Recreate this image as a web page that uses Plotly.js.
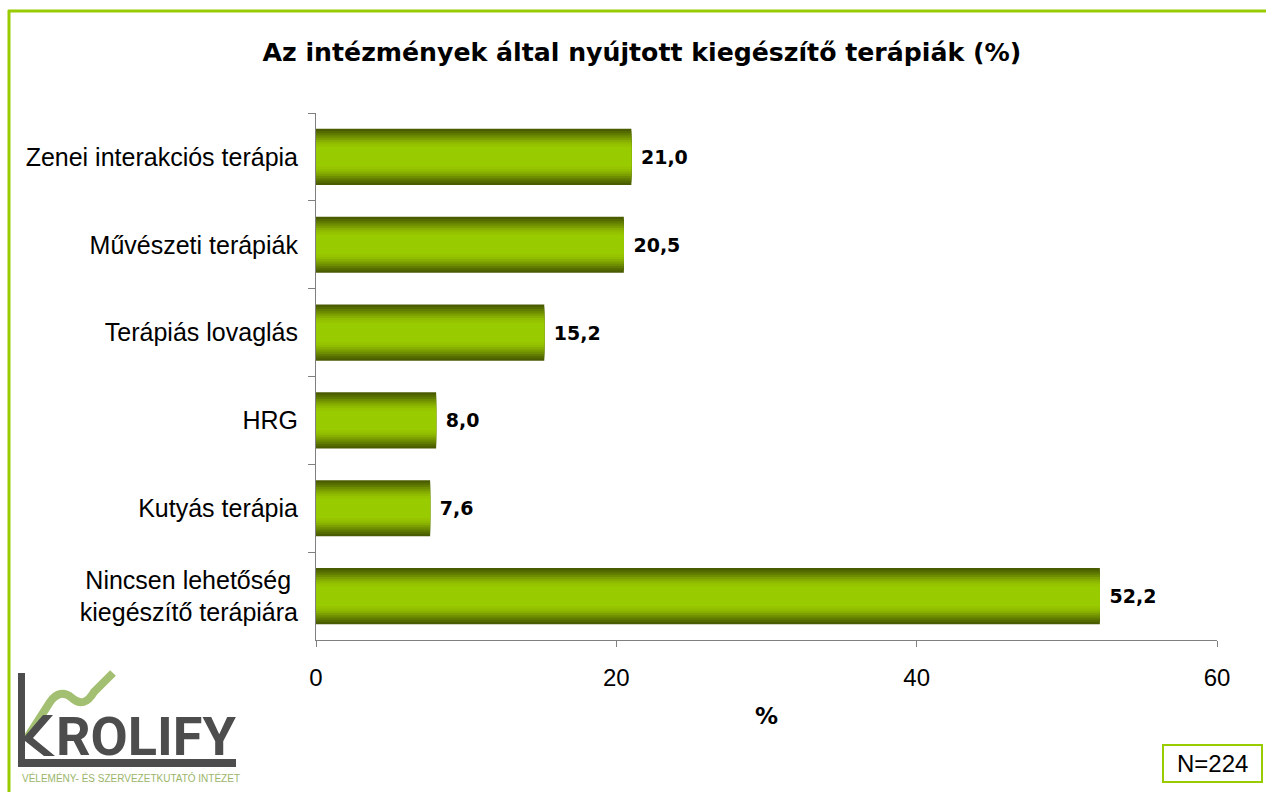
<!DOCTYPE html>
<html>
<head>
<meta charset="utf-8">
<script src="https://cdn.plot.ly/plotly-3.0.1.min.js"></script>
<style>html,body{margin:0;padding:0;background:#fff;}#chart{width:1266px;height:792px;}</style>
</head>
<body>
<div id="chart"></div>
<script>
// ---- data ----
const categories = [
  "Zenei interakciós terápia",
  "Művészeti terápiák",
  "Terápiás lovaglás",
  "HRG",
  "Kutyás terápia",
  "Nincsen lehetőség <br>kiegészítő terápiára"
];
const values = [21.0, 20.5, 15.2, 8.0, 7.6, 52.2];
const xTicks = [0, 20, 40, 60];
const chartTitle = "Az intézmények által nyújtott kiegészítő terápiák (%)";
const xTitle = "%";
const sampleNote = "N=224";

// ---- geometry helpers (pixel -> paper) ----
const W = 1266, H = 792;
const M = {l: 316, r: 49, t: 113, b: 152};
const pw = W - M.l - M.r, ph = H - M.t - M.b;
const px = x => (x - M.l) / pw;
const py = y => (H - M.b - y) / ph;

// gradient layers: [fraction of bar width, colour]
const layers = [
  [1.00, "#4a5c00"], [0.92, "#556b00"], [0.84, "#617c00"], [0.76, "#6e8d00"],
  [0.68, "#7b9e00"], [0.60, "#87ae00"], [0.52, "#90bc00"], [0.44, "#96c500"],
  [0.34, "#99cc00"]
];
const baseWidth = 0.64;

const traces = layers.map((l, i) => ({
  type: "bar",
  orientation: "h",
  y: categories,
  x: values,
  width: baseWidth * l[0],
  marker: {color: l[1], line: {width: 0}},
  texttemplate: i === 0 ? "\u00a0%{x:.1f}" : undefined,
  textposition: i === 0 ? "outside" : "none",
  textfont: {family: "DejaVu Sans", size: 19, color: "#000", weight: "bold"},
  cliponaxis: false,
  hoverinfo: "skip",
  showlegend: false
}));

const grey = "#4d4d4d";
const shapes = [
  // green frame (top and left)
  {type: "line", xref: "paper", yref: "paper", x0: px(8), x1: px(1266), y0: py(11), y1: py(11), line: {color: "#99cc00", width: 3}},
  {type: "line", xref: "paper", yref: "paper", x0: px(9), x1: px(9), y0: py(10), y1: py(792), line: {color: "#99cc00", width: 3}},
  // logo: green wave
  {type: "path", xref: "paper", yref: "paper",
   path: `M ${px(27)} ${py(738)} L ${px(50)} ${py(702)} Q ${px(60)} ${py(688)} ${px(72)} ${py(698)} Q ${px(84)} ${py(709)} ${px(94)} ${py(692)} L ${px(113)} ${py(673)}`,
   line: {color: "#a3bf72", width: 8}},
  // logo: L frame
  {type: "rect", xref: "paper", yref: "paper", x0: px(18), x1: px(25), y0: py(673), y1: py(767), fillcolor: grey, line: {width: 0}},
  {type: "rect", xref: "paper", yref: "paper", x0: px(18), x1: px(236), y0: py(759), y1: py(767), fillcolor: grey, line: {width: 0}},
  // logo: K arms
  {type: "path", xref: "paper", yref: "paper",
   path: `M ${px(25)} ${py(736)} L ${px(43)} ${py(715)} L ${px(53)} ${py(715)} L ${px(33)} ${py(738)} L ${px(55)} ${py(756)} L ${px(44)} ${py(756)} L ${px(25)} ${py(741)} Z`,
   fillcolor: grey, line: {width: 0}},
  // N box
  {type: "rect", xref: "paper", yref: "paper", x0: px(1163), x1: px(1262), y0: py(745), y1: py(782), fillcolor: "#fff", line: {color: "#99cc00", width: 2}}
];

const annotations = [
  {xref: "paper", yref: "paper", x: px(54), y: py(736), xanchor: "left", yanchor: "middle", showarrow: false,
   text: "ROLIFY", font: {family: "Roboto", size: 54, color: grey, weight: "bold"}},
  {xref: "paper", yref: "paper", x: px(20), y: py(778), xanchor: "left", yanchor: "middle", showarrow: false,
   text: "VÉLEMÉNY- ÉS SZERVEZETKUTATÓ INTÉZET", font: {family: "Liberation Sans", size: 10, color: "#9bb56a"}},
  {xref: "paper", yref: "paper", x: px(1212), y: py(763), xanchor: "center", yanchor: "middle", showarrow: false,
   text: sampleNote, font: {family: "Liberation Sans", size: 24, color: "#000"}}
];

const layout = {
  width: W, height: H,
  margin: M,
  paper_bgcolor: "#fff", plot_bgcolor: "#fff",
  barmode: "overlay",
  separators: ", ",
  title: {text: chartTitle, x: 0.507, xref: "container", y: 1 - 52 / H, yref: "container", yanchor: "middle",
          font: {family: "DejaVu Sans", size: 25.2, color: "#000", weight: "bold"}},
  xaxis: {
    range: [0, 60], tickvals: xTicks, ticktext: xTicks.map(String),
    showgrid: false, zeroline: false, showline: true, linecolor: "#808080", linewidth: 1,
    ticks: "outside", ticklen: 6, tickcolor: "#808080", ticklabelstandoff: 10,
    tickfont: {family: "Liberation Sans", size: 24, color: "#000"},
    title: {text: xTitle, font: {family: "DejaVu Sans", size: 23, color: "#000", weight: "bold"}, standoff: 18},
    fixedrange: true
  },
  yaxis: {
    type: "category", autorange: "reversed",
    showgrid: false, zeroline: false, showline: true, linecolor: "#808080", linewidth: 1,
    ticks: "outside", ticklen: 7, tickcolor: "#808080", tickson: "boundaries", ticklabelstandoff: 12,
    tickfont: {family: "Liberation Sans", size: 25, color: "#000"},
    fixedrange: true
  },
  shapes: shapes,
  annotations: annotations
};

Plotly.newPlot("chart", traces, layout, {displayModeBar: false, staticPlot: true});
</script>
</body>
</html>
